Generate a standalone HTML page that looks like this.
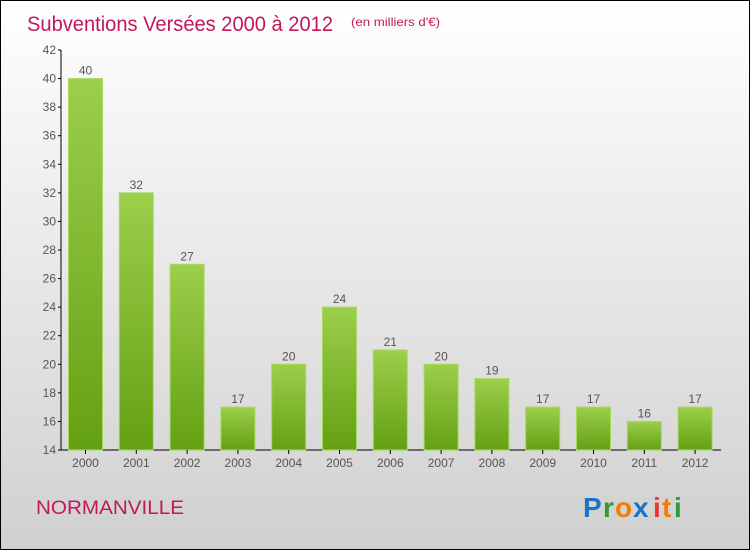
<!DOCTYPE html>
<html><head><meta charset="utf-8"><style>
body{margin:0;width:750px;height:550px;overflow:hidden}
#c{position:relative;width:748px;height:548px;border:1px solid #000;background:linear-gradient(#ffffff,#d0d0d0);font-family:"Liberation Sans",sans-serif}
</style></head><body>
<div id="c">
<svg width="748" height="548" id="s">
<defs><linearGradient id="g" x1="0" y1="0" x2="0" y2="1"><stop offset="0" stop-color="#9ccf4a"/><stop offset="1" stop-color="#64a014"/></linearGradient></defs>
<text x="26" y="30" font-size="21" fill="#c2185b" textLength="306" lengthAdjust="spacingAndGlyphs">Subventions Versées 2000 à 2012</text>
<text x="350" y="25" font-size="12" fill="#c2185b" textLength="89" lengthAdjust="spacingAndGlyphs">(en milliers d'€)</text>
<text x="35" y="513" font-size="19" fill="#c2185b" textLength="148" lengthAdjust="spacingAndGlyphs">NORMANVILLE</text>
<g font-size="28" font-weight="bold">
<text x="582" y="516" fill="#1a73c8">P</text><text x="602" y="516" fill="#2e9a3a">r</text><text x="614" y="516" fill="#f57c00">o</text><text x="632" y="516" fill="#1a73c8">x</text><text x="652" y="516" fill="#e53935">i</text><text x="661" y="516" fill="#f57c00">t</text><text x="673" y="516" fill="#2e9a3a">i</text>
</g>
</svg>
</div>
<script>
const categories=["2000","2001","2002","2003","2004","2005","2006","2007","2008","2009","2010","2011","2012"];
const values=[40,32,27,17,20,24,21,20,19,17,17,16,17];
const yTicks=[14,16,18,20,22,24,26,28,30,32,34,36,38,40,42];
const s=document.getElementById('s');const NS='http://www.w3.org/2000/svg';
const y0=449,y1=49,vmin=14,vmax=42;
const y=v=>y0-(v-vmin)/(vmax-vmin)*(y0-y1);
const x=i=>84.5+i*50.8;
function el(t,a,p){const e=document.createElementNS(NS,t);for(const k in a)e.setAttribute(k,a[k]);(p||s).appendChild(e);return e;}
const ax=el('line',{x1:60,y1:y1,x2:60,y2:y0,stroke:'#000'});


const xa=el('line',{x1:60,y1:y0,x2:720,y2:y0,stroke:'#000'});


yTicks.forEach(v=>{
 el('line',{x1:57,y1:y(v),x2:60,y2:y(v),stroke:'#000'});
 const t=el('text',{x:55,y:y(v)+4,'font-size':12,fill:'#555','text-anchor':'end'});t.textContent=v;
 
 
});
categories.forEach((c,i)=>{
 const v=values[i];
 const r=el('rect',{x:x(i)-17,y:y(v),width:34,height:y0-y(v),fill:'url(#g)',stroke:'#a8d860','stroke-width':1});
 
 
 const l=el('text',{x:x(i),y:y(v)-4,'font-size':12,fill:'#555','text-anchor':'middle'});l.textContent=v;
 
 
 el('line',{x1:x(i),y1:y0,x2:x(i),y2:y0+4,stroke:'#000'});
 const t=el('text',{x:x(i),y:y0+17,'font-size':12,fill:'#555','text-anchor':'middle'});t.textContent=c;
 
 
});
</script>
</body></html>
